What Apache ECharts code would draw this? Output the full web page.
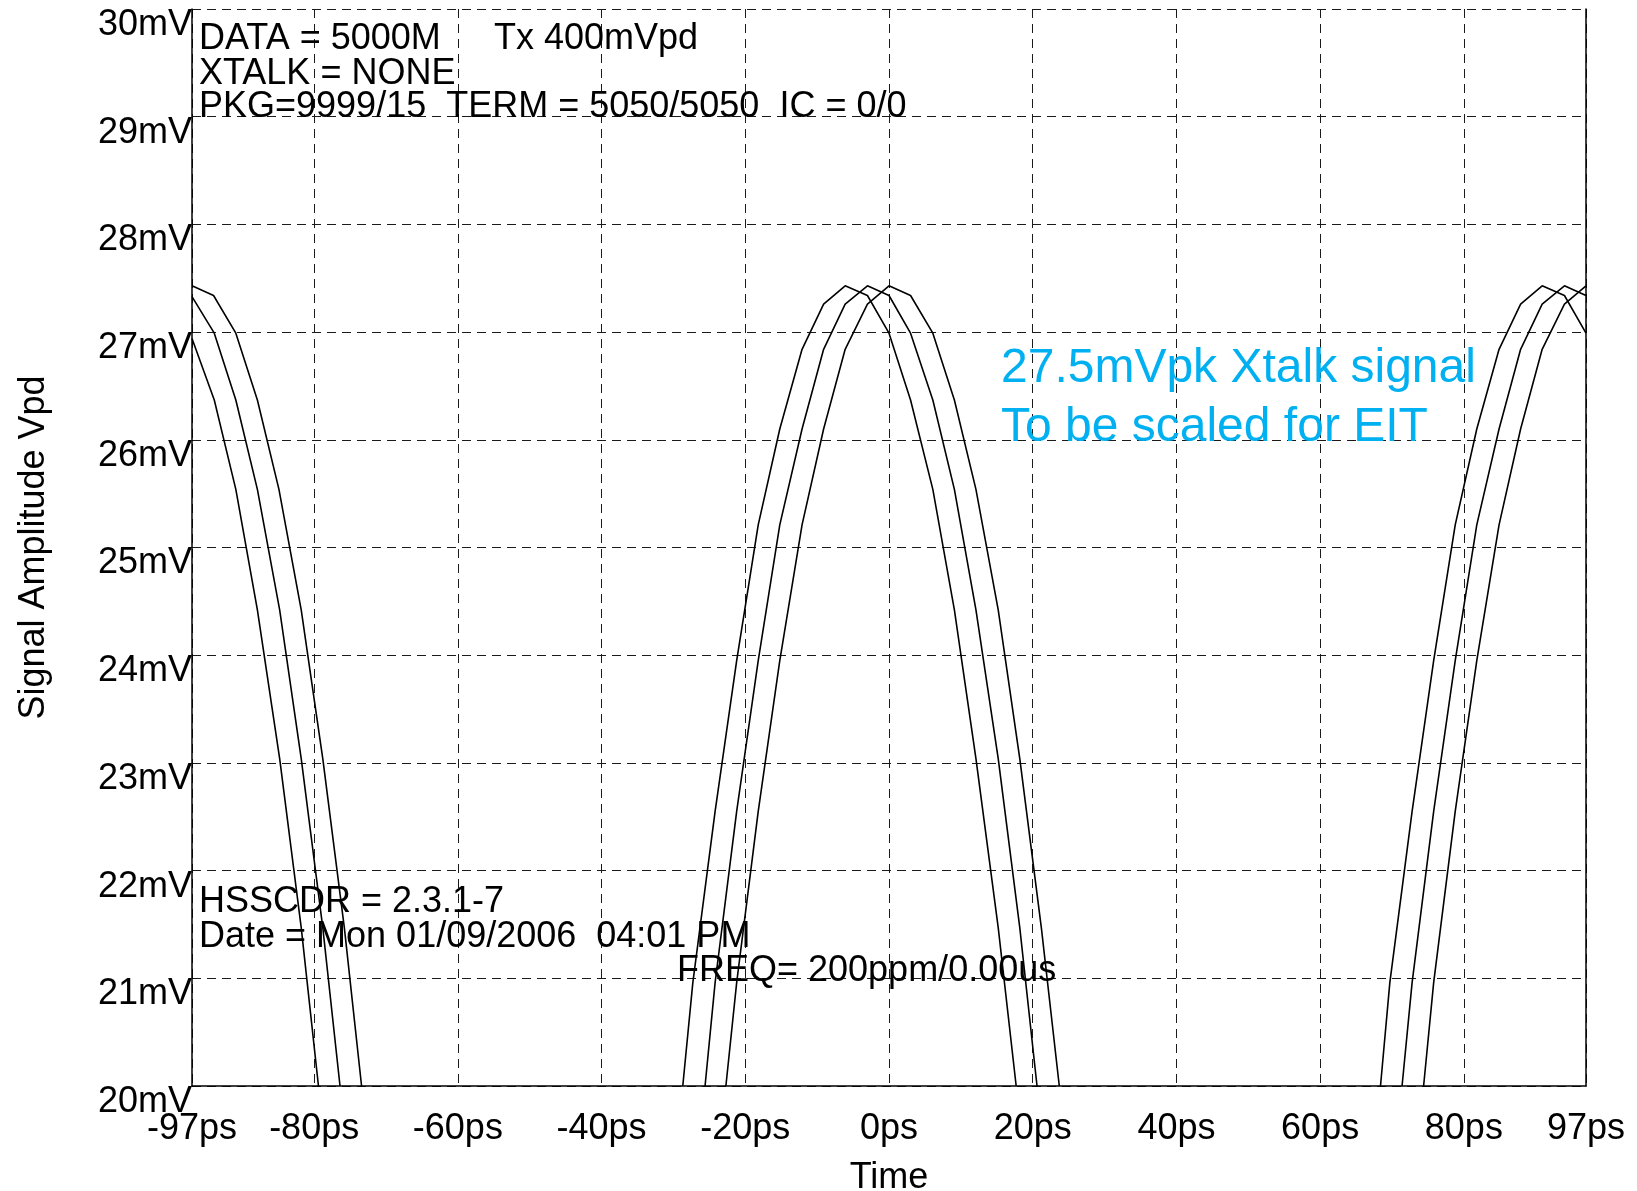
<!DOCTYPE html>
<html>
<head>
<meta charset="utf-8">
<script src="https://cdn.jsdelivr.net/npm/echarts@6/dist/echarts.min.js"></script>
<style>
html,body{margin:0;padding:0;background:#ffffff;}
#chart{width:1637px;height:1191px;}
</style>
</head>
<body>
<div id="chart"></div>
<script>
// ---- data (time in ps, amplitude in mV) ----
const xTickValues = [-97, -80, -60, -40, -20, 0, 20, 40, 60, 80, 97];
const yMin = 20;
const yMax = 30;

const trace1Time = [-97.0, -93.9, -90.9, -87.9, -84.8, -81.8, -79.4, null,
  -28.7, -27.3, -24.2, -21.2, -18.2, -15.2, -12.1, -9.1, -6.1, -3.0, 0.0, 3.0, 6.1, 9.1, 12.1, 15.2, 17.7, null,
  68.4, 69.7, 72.8, 75.8, 78.8, 81.8, 84.9, 87.9, 90.9, 94.0, 97.0];
const trace1Mv = [26.94, 26.37, 25.54, 24.42, 23.04, 21.47, 20.0, null,
  20.0, 20.96, 22.55, 23.95, 25.21, 26.10, 26.84, 27.26, 27.43, 27.34, 26.99, 26.37, 25.54, 24.42, 23.04, 21.47, 20.0, null,
  20.0, 20.96, 22.55, 23.95, 25.21, 26.10, 26.84, 27.26, 27.43, 27.34, 26.99];

const trace2Time = [-97.0, -93.9, -90.9, -87.9, -84.8, -81.8, -78.8, -76.4, null,
  -25.6, -24.2, -21.2, -18.2, -15.2, -12.1, -9.1, -6.1, -3.0, 0.0, 3.0, 6.1, 9.1, 12.1, 15.2, 18.2, 20.6, null,
  71.4, 72.8, 75.8, 78.8, 81.8, 84.9, 87.9, 90.9, 94.0, 97.0];
const trace2Mv = [27.33, 26.99, 26.37, 25.54, 24.42, 23.04, 21.47, 20.0, null,
  20.0, 20.96, 22.55, 23.95, 25.21, 26.10, 26.84, 27.26, 27.43, 27.34, 26.99, 26.37, 25.54, 24.42, 23.04, 21.47, 20.0, null,
  20.0, 20.96, 22.55, 23.95, 25.21, 26.10, 26.84, 27.26, 27.43, 27.34];

const trace3Time = [-97.0, -94.0, -90.9, -87.9, -84.9, -81.8, -78.8, -75.8, -73.4, null,
  -22.7, -21.2, -18.2, -15.2, -12.1, -9.1, -6.1, -3.0, 0.0, 3.0, 6.1, 9.1, 12.1, 15.2, 18.2, 21.2, 23.7, null,
  74.4, 75.8, 78.8, 81.8, 84.9, 87.9, 90.9, 94.0, 97.0];
const trace3Mv = [27.43, 27.34, 26.99, 26.37, 25.54, 24.42, 23.04, 21.47, 20.0, null,
  20.0, 20.96, 22.55, 23.95, 25.21, 26.10, 26.84, 27.26, 27.43, 27.34, 26.99, 26.37, 25.54, 24.42, 23.04, 21.47, 20.0, null,
  20.0, 20.96, 22.55, 23.95, 25.21, 26.10, 26.84, 27.26, 27.43];

const headerLines = ['DATA = 5000M', 'XTALK = NONE', 'PKG=9999/15  TERM = 5050/5050  IC = 0/0'];
const headerTx = 'Tx 400mVpd';
const footerLines = ['HSSCDR = 2.3.1-7', 'Date = Mon 01/09/2006  04:01 PM'];
const freqText = 'FREQ= 200ppm/0.00us';
const noteLines = ['27.5mVpk Xtalk signal', 'To be scaled for EIT'];

// ---- build ----
function zip(t, v) {
  return t.map((x, i) => (x === null ? ['-', '-'] : [x, v[i]]));
}
const FONT = '"Liberation Sans", Arial, Helvetica, sans-serif';
const F = 36;
const lineStyle = { color: '#000000', width: 1.6 };
const gridLine = { show: true, lineStyle: { color: '#1a1a1a', width: 1, type: [9, 6] } };

function txt(s, left, top, size, color) {
  return { type: 'text', left: left, top: top, z: 10,
    style: { text: s, font: size + 'px ' + FONT, fill: color } };
}

const chart = echarts.init(document.getElementById('chart'), null, { renderer: 'canvas' });
chart.setOption({
  animation: false,
  backgroundColor: '#ffffff',
  textStyle: { fontFamily: FONT },
  grid: { left: 192, right: 51, top: 9, bottom: 105, containLabel: false, outerBoundsMode: 'none' },
  xAxis: {
    type: 'value', min: xTickValues[0], max: xTickValues[xTickValues.length - 1],
    name: 'Time', nameLocation: 'middle', nameGap: 74,
    nameTextStyle: { fontSize: F, color: '#000', fontFamily: FONT },
    axisLine: { show: true, onZero: false, lineStyle: { color: '#000', width: 1.5 } },
    axisTick: { show: false, customValues: xTickValues },
    axisLabel: { customValues: xTickValues, formatter: v => v + 'ps', fontSize: F, color: '#000', margin: 25, fontFamily: FONT },
    splitLine: gridLine
  },
  yAxis: [{
    type: 'value', min: yMin, max: yMax, interval: 1, position: 'left',
    name: 'Signal Amplitude Vpd', nameLocation: 'middle', nameGap: 140,
    nameTextStyle: { fontSize: F, color: '#000', fontFamily: FONT },
    axisLine: { show: true, onZero: false, lineStyle: { color: '#000', width: 1.5 } },
    axisTick: { show: false },
    axisLabel: { formatter: '{value}mV', fontSize: F, color: '#000', margin: 0, verticalAlign: 'top', lineHeight: 32, fontFamily: FONT },
    splitLine: gridLine
  }, {
    type: 'value', min: yMin, max: yMax, interval: 1, position: 'right',
    axisLine: { show: true, onZero: false, lineStyle: { color: '#000', width: 1.5 } },
    axisTick: { show: false }, axisLabel: { show: false }, splitLine: { show: false }
  }],
  series: [
    { type: 'line', data: zip(trace1Time, trace1Mv), showSymbol: false, symbol: 'none', lineStyle: lineStyle, clip: true, z: 5 },
    { type: 'line', data: zip(trace2Time, trace2Mv), showSymbol: false, symbol: 'none', lineStyle: lineStyle, clip: true, z: 5 },
    { type: 'line', data: zip(trace3Time, trace3Mv), showSymbol: false, symbol: 'none', lineStyle: lineStyle, clip: true, z: 5 }
  ],
  graphic: [
    txt(headerLines[0], 199, 21, F, '#000'),
    txt(headerTx, 494, 21, F, '#000'),
    txt(headerLines[1], 199, 56, F, '#000'),
    txt(headerLines[2], 199, 89.5, F, '#000'),
    txt(footerLines[0], 199, 884, F, '#000'),
    txt(footerLines[1], 199, 919, F, '#000'),
    txt(freqText, 677, 953.5, F, '#000'),
    txt(noteLines[0], 1001, 345, 48, '#00b0f0'),
    txt(noteLines[1], 1001, 404, 48, '#00b0f0')
  ]
});
</script>
</body>
</html>
